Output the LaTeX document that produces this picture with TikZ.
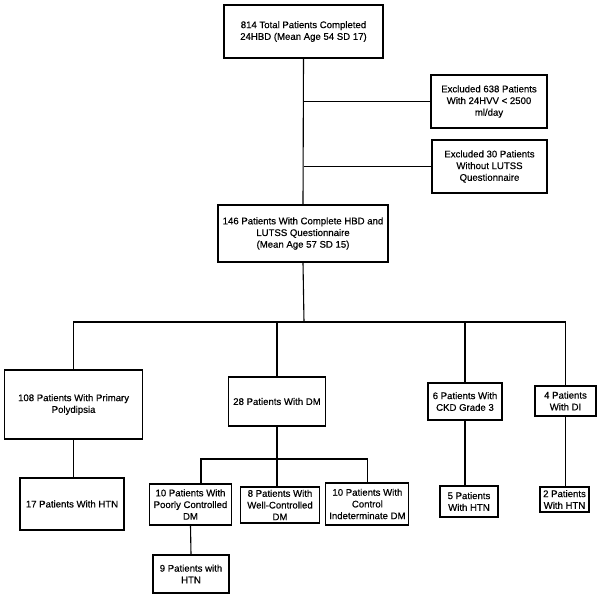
\documentclass[tikz,border=0pt]{standalone}
\usepackage{fontspec}
\setmainfont{Liberation Sans}
\newfontfamily\boxfont{Liberation Sans}[FakeBold=0.5]
\usetikzlibrary{positioning,calc}

\begin{document}
\begin{tikzpicture}[
  x=1pt, y=-1pt,
  line width=1.1pt,
  box/.style={draw, align=center, inner sep=1pt, font=\boxfont\fontsize{9.6}{11.7}\selectfont},
  link/.style={draw}
]
\useasboundingbox (0,0) rectangle (600,600);

% Main column
\node[box, minimum width=159pt, minimum height=53pt] (total) at (303.5,31.5) {814 Total Patients Completed\\24HBD (Mean Age 54 SD 17)};
\node[box, minimum width=116pt, minimum height=53pt] (exvol) at (489,101.5) {Excluded 638 Patients\\With 24HVV < 2500\\ml/day};
\node[box, minimum width=115pt, minimum height=53pt] (exlut) at (489.5,166.5) {Excluded 30 Patients\\Without LUTSS\\Questionnaire};
\node[box, minimum width=170pt, minimum height=57pt] (cohort) at (303,233.5) {146 Patients With Complete HBD and\\LUTSS Questionnaire\\(Mean Age 57 SD 15)};

% Diagnosis groups
\node[box, minimum width=138pt, minimum height=69pt] (pp) at (73.6,404.5) {108 Patients With Primary\\Polydipsia};
\node[box, minimum width=97.5pt, minimum height=49pt] (dm) at (277,401.5) {28 Patients With DM};
\node[box, minimum width=74pt, minimum height=37pt] (ckd) at (465,401.5) {6 Patients With\\CKD Grade 3};
\node[box, minimum width=61pt, minimum height=30pt] (di) at (565.5,401) {4 Patients\\With DI};

% DM subgroups
\node[box, minimum width=82pt, minimum height=41pt] (dmpoor) at (190.5,504.5) {10 Patients With\\Poorly Controlled\\DM};
\node[box, minimum width=79.5pt, minimum height=36pt] (dmwell) at (280,505) {8 Patients With\\Well-Controlled\\DM};
\node[box, minimum width=83pt, minimum height=42pt] (dmind) at (367.4,504) {10 Patients With\\Control\\Indeterminate DM};

% Hypertension counts
\node[box, minimum width=104pt, minimum height=52pt] (htnpp) at (72,504) {17 Patients With HTN};
\node[box, minimum width=76pt, minimum height=38pt] (htnpoor) at (191,574) {9 Patients with\\HTN};
\node[box, minimum width=58pt, minimum height=31pt] (htnckd) at (469,501.5) {5 Patients\\With HTN};
\node[box, minimum width=49pt, minimum height=25pt] (htndi) at (564.5,499.5) {2 Patients\\With HTN};

% Junctions
\coordinate (bar) at (304,322);
\coordinate (dmbar) at (277,459);

% Connectors
\draw (total.south) -- (cohort.north);
\draw (total.south |- exvol.west) -- (exvol.west);
\draw (total.south |- exlut.west) -- (exlut.west);
\draw (cohort.south) -- (bar);
\draw (pp.north) |- (bar) -| (di.north);
\draw (dm.north) -- (dm.north |- bar);
\draw (ckd.north) -- (ckd.north |- bar);

\draw (dm.south) -- (dmbar);
\draw ([xshift=10.5pt]dmpoor.north) |- (dmbar) -| (dmind.north);
\draw (dmbar) -- (dmbar |- dmwell.north);

\draw (pp.south) -- (pp.south |- htnpp.north);
\draw (dmpoor.south) -- (htnpoor.north);
\draw (ckd.south) -- (ckd.south |- htnckd.north);
\draw (di.south) -- (di.south |- htndi.north);
\end{tikzpicture}
\end{document}
